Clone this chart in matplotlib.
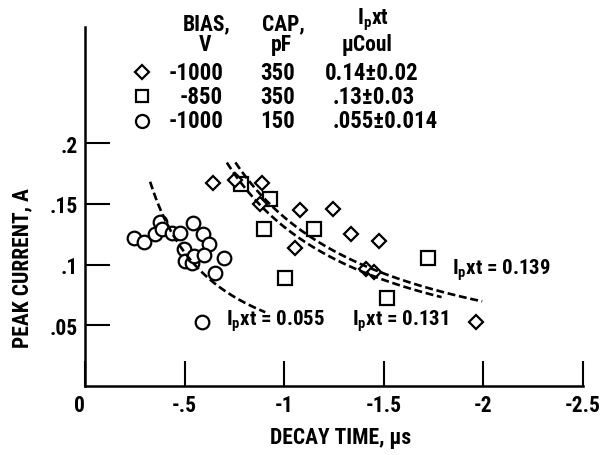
import matplotlib
matplotlib.use("Agg")
import matplotlib.pyplot as plt
from matplotlib.lines import Line2D
import numpy as np

plt.rcParams['font.family'] = ['Roboto Condensed', 'Liberation Sans Narrow', 'Roboto', 'DejaVu Sans']
plt.rcParams['font.stretch'] = 'condensed'
plt.rcParams['font.weight'] = 'bold'
plt.rcParams['mathtext.default'] = 'regular'

# data (decay time in us, peak current in A)
diamond_t = [-0.643, -0.755, -0.889, -0.877, -1.078, -1.247, -1.337, -1.476, -1.052, -1.409, -1.451, -1.963]
diamond_i = [0.167, 0.170, 0.1675, 0.150, 0.145, 0.146, 0.125, 0.119, 0.114, 0.0965, 0.094, 0.053]

square_t = [-0.785, -0.928, -0.897, -1.149, -1.002, -1.515, -1.723]
square_i = [0.166, 0.154, 0.1295, 0.129, 0.089, 0.0725, 0.105]

circle_t = [-0.247, -0.294, -0.352, -0.374, -0.386, -0.436, -0.478, -0.498, -0.503,
            -0.537, -0.549, -0.540, -0.592, -0.621, -0.599, -0.696, -0.654, -0.587]
circle_i = [0.122, 0.1185, 0.125, 0.135, 0.129, 0.126, 0.1257, 0.1125, 0.103,
            0.101, 0.107, 0.1345, 0.125, 0.117, 0.1075, 0.1056, 0.093, 0.053]

# constant-charge curves  Ip x t = q
curve_q = [0.055, 0.131, 0.139]
curve_t0 = [-0.327, -0.712, -0.755]
curve_t1 = [-0.905, -1.79, -1.994]
curve_label_t = [-0.708, -1.339, -1.84]
curve_label_i = [0.054, 0.054, 0.096]

xticks = [0, -0.5, -1, -1.5, -2, -2.5]
xtick_labels = ['0', '-.5', '-1', '-1.5', '-2', '-2.5']
yticks = [0.05, 0.1, 0.15, 0.2]
ytick_labels = ['.05', '.1', '.15', '.2']

bias = ['-1000', '-850', '-1000']
cap = ['350', '350', '150']
charge = ['0.14\u00b10.02', '.13\u00b10.03', '.055\u00b10.014']

W, H = 606, 456
FS = 15.5


def px(x, y):
    return x / W, 1 - y / H


fig = plt.figure(figsize=(W / 100, H / 100), dpi=100)
ax = fig.add_axes([85 / W, 1 - 387 / H, (583 - 85) / W, (387 - 28) / H])
ax.set_xlim(0, -2.5)
ax.set_ylim(0, 0.2956)

for s in ['top', 'right']:
    ax.spines[s].set_visible(False)
for s in ['left', 'bottom']:
    ax.spines[s].set_linewidth(1.8)

mk = dict(linestyle='none', markerfacecolor='white', markeredgecolor='black', markeredgewidth=1.6, clip_on=False)
ax.plot(circle_t, circle_i, marker='o', markersize=9.8, **mk)
ax.plot(square_t, square_i, marker='s', markersize=9.6, **mk)
ax.plot(diamond_t, diamond_i, marker='D', markersize=7.3, **mk)

for q, t0, t1, lt, li in zip(curve_q, curve_t0, curve_t1, curve_label_t, curve_label_i):
    t = np.linspace(t0, t1, 80)
    ax.plot(t, q / np.abs(t), color='black', lw=1.9, linestyle=(0, (3, 1.4)))
    ax.text(lt, li, 'I$_p$xt = %.3f' % q, ha='left', va='center', fontsize=15)

ax.set_xticks(xticks)
ax.set_xticklabels(xtick_labels)
ax.set_yticks(yticks)
ax.set_yticklabels(ytick_labels)
ax.tick_params(direction='in', length=18, width=1.5, labelsize=FS)
ax.tick_params(axis='x', pad=6)
ax.tick_params(axis='y', pad=5)
ax.get_xticklabels()[0].set_ha('right')

fig.text(*px(22, 268), 'PEAK CURRENT, A', rotation=90, ha='center', va='center', fontsize=FS)
fig.text(*px(341, 438), 'DECAY TIME, \u03bcs', ha='center', va='center', fontsize=FS)

# key table
fig.text(*px(207, 24), 'BIAS,', ha='center', va='center', fontsize=FS)
fig.text(*px(205, 45), 'V', ha='center', va='center', fontsize=FS)
fig.text(*px(283, 24), 'CAP,', ha='center', va='center', fontsize=FS)
fig.text(*px(281, 45), 'pF', ha='center', va='center', fontsize=FS)
fig.text(*px(373, 20), 'I$_p$xt', ha='center', va='center', fontsize=FS)
fig.text(*px(367, 45), '\u03bcCoul', ha='center', va='center', fontsize=FS)

key_markers = [('D', 7.0), ('s', 9.0), ('o', 9.4)]
row_y = [73, 97, 122]
col3_x = [325, 333, 333]
for (m, ms), y, b, c, q, x3 in zip(key_markers, row_y, bias, cap, charge, col3_x):
    fig.add_artist(Line2D([142 / W], [1 - y / H], transform=fig.transFigure, marker=m, markersize=ms,
                          markerfacecolor='white', markeredgecolor='black', markeredgewidth=1.6))
    fig.text(*px(223, y), b, ha='right', va='center', fontsize=16.5)
    fig.text(*px(295, y), c, ha='right', va='center', fontsize=16.5)
    fig.text(*px(x3, y), q, ha='left', va='center', fontsize=16.5)

fig.savefig('out.png', dpi=100)
